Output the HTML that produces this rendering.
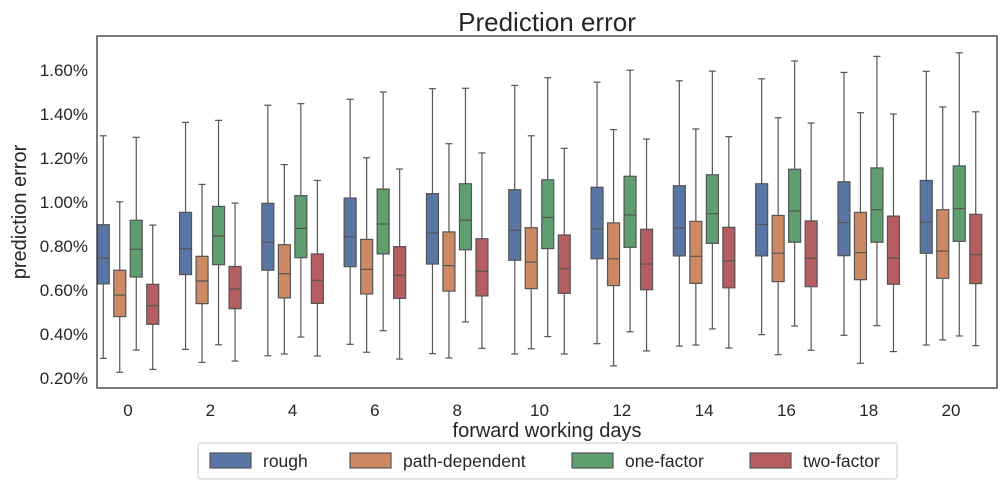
<!DOCTYPE html>
<html><head><meta charset="utf-8"><style>
body{margin:0;background:#fff;width:1002px;height:483px;overflow:hidden;font-family:"Liberation Sans",sans-serif}
svg text{font-family:"Liberation Sans",sans-serif;fill:#262626}
</style></head><body>
<svg id="chart" width="1002" height="483">
<text x="547" y="31" text-anchor="middle" font-size="26">Prediction error</text>
<text transform="translate(26,212) rotate(-90)" text-anchor="middle" font-size="20">prediction error</text>
<text x="547" y="437" text-anchor="middle" font-size="20">forward working days</text>
<g id="ticks"></g>
<g id="marks"></g>
<rect x="97" y="36" width="900" height="352" fill="none" stroke="#333" stroke-width="1.3"/>
<g>
<rect x="198" y="443" width="699" height="36" fill="#fff" stroke="#ccc" rx="3"/>
<g id="legend"></g>
</g>
</svg>
<script>
const categories=[0,2,4,6,8,10,12,14,16,18,20];
const seriesNames=["rough","path-dependent","one-factor","two-factor"];
const seriesColors=["#5875a4","#cc8963","#5f9e6e","#b55d60"];
const yTicks=[0.2,0.4,0.6,0.8,1.0,1.2,1.4,1.6];
// [low, q1, median, q3, high] per category
const rough=[[0.289,0.628,0.745,0.897,1.301],[0.33,0.67,0.788,0.953,1.362],[0.301,0.69,0.817,0.994,1.44],[0.353,0.706,0.842,1.018,1.467],[0.311,0.718,0.86,1.038,1.515],[0.309,0.735,0.871,1.056,1.53],[0.356,0.742,0.877,1.067,1.545],[0.345,0.755,0.883,1.074,1.551],[0.397,0.755,0.898,1.083,1.56],[0.394,0.756,0.906,1.092,1.589],[0.35,0.767,0.908,1.098,1.594]];
const pathDependent=[[0.226,0.479,0.577,0.69,1.001],[0.271,0.538,0.641,0.753,1.08],[0.309,0.564,0.674,0.806,1.17],[0.317,0.582,0.694,0.83,1.201],[0.291,0.595,0.711,0.864,1.265],[0.333,0.606,0.727,0.883,1.301],[0.255,0.62,0.742,0.905,1.329],[0.35,0.63,0.753,0.912,1.332],[0.306,0.638,0.767,0.939,1.383],[0.267,0.647,0.77,0.953,1.406],[0.373,0.653,0.777,0.965,1.432]];
const oneFactor=[[0.327,0.659,0.785,0.917,1.294],[0.351,0.715,0.845,0.98,1.371],[0.386,0.747,0.88,1.029,1.447],[0.415,0.764,0.9,1.059,1.5],[0.455,0.783,0.917,1.083,1.517],[0.388,0.788,0.93,1.101,1.565],[0.41,0.794,0.941,1.117,1.599],[0.423,0.812,0.947,1.124,1.595],[0.436,0.817,0.959,1.149,1.641],[0.438,0.817,0.965,1.155,1.662],[0.391,0.821,0.97,1.164,1.678]];
const twoFactor=[[0.239,0.444,0.529,0.626,0.895],[0.277,0.515,0.605,0.707,0.995],[0.3,0.539,0.644,0.764,1.098],[0.286,0.562,0.667,0.797,1.15],[0.335,0.573,0.685,0.833,1.223],[0.309,0.585,0.697,0.85,1.244],[0.323,0.601,0.718,0.876,1.286],[0.336,0.61,0.733,0.885,1.297],[0.326,0.615,0.744,0.914,1.359],[0.32,0.626,0.745,0.936,1.4],[0.347,0.629,0.761,0.944,1.41]];
const allSeries=[rough,pathDependent,oneFactor,twoFactor];
const NS="http://www.w3.org/2000/svg";
const yScale=v=>378-(v-0.2)*220;
const xScale=i=>128+i*82.3;
function mk(tag,attrs,parent){const e=document.createElementNS(NS,tag);for(const k in attrs)e.setAttribute(k,attrs[k]);parent.appendChild(e);return e;}
const ticks=document.getElementById('ticks'),marks=document.getElementById('marks'),legend=document.getElementById('legend');
yTicks.forEach(t=>{const tx=mk('text',{x:88,y:yScale(t)+6,'text-anchor':'end','font-size':17},ticks);tx.textContent=t.toFixed(2)+'%';

});
categories.forEach((c,i)=>{const tx=mk('text',{x:xScale(i),y:416,'text-anchor':'middle','font-size':17},ticks);tx.textContent=c;

});
allSeries.forEach((s,si)=>{s.forEach((d,i)=>{
 const cx=xScale(i)+(si-1.5)*16.5,w=12;
 const g=mk('g',{},marks);
 
 
 const st={stroke:'#555','stroke-width':1.2};
 mk('line',Object.assign({x1:cx,x2:cx,y1:yScale(d[0]),y2:yScale(d[1])},st),g);
 mk('line',Object.assign({x1:cx,x2:cx,y1:yScale(d[3]),y2:yScale(d[4])},st),g);
 mk('line',Object.assign({x1:cx-3.5,x2:cx+3.5,y1:yScale(d[0]),y2:yScale(d[0])},st),g);
 mk('line',Object.assign({x1:cx-3.5,x2:cx+3.5,y1:yScale(d[4]),y2:yScale(d[4])},st),g);
 mk('rect',Object.assign({x:cx-w/2,y:yScale(d[3]),width:w,height:yScale(d[1])-yScale(d[3]),fill:seriesColors[i>=0?si:0]},st),g);
 mk('line',Object.assign({x1:cx-w/2,x2:cx+w/2,y1:yScale(d[2]),y2:yScale(d[2])},st),g);
});});
const lx=[210,350,572,750];
seriesNames.forEach((n,i)=>{const g=mk('g',{},legend);
 
 
 mk('rect',{x:lx[i],y:453,width:41,height:15,fill:seriesColors[i],stroke:'#555','stroke-width':1.2},g);
 const t=mk('text',{x:lx[i]+53,y:467,'font-size':17.5},g);t.textContent=n;});
</script>
</body></html>
